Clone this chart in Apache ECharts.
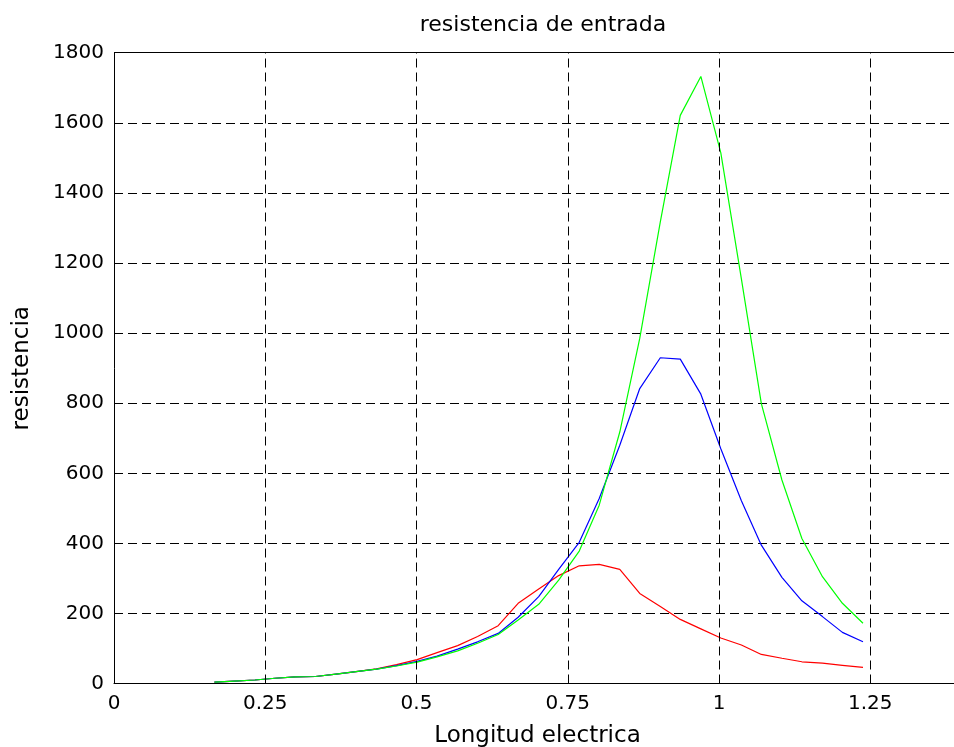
<!DOCTYPE html>
<html>
<head>
<meta charset="utf-8">
<script src="https://cdn.jsdelivr.net/npm/echarts@6/dist/echarts.min.js"></script>
<style>html,body{margin:0;padding:0;background:#fff}#c{width:954px;height:747px}</style>
</head>
<body>
<div id="c"></div>
<script>
var longitud = [0.166,0.199,0.233,0.266,0.300,0.333,0.367,0.400,0.434,0.467,0.501,0.534,0.568,0.601,0.635,0.668,0.702,0.735,0.769,0.802,0.836,0.869,0.903,0.936,0.970,1.003,1.037,1.070,1.104,1.137,1.171,1.204,1.238];
var rojo  = [4,7,10,15,19,20,27,34,42,54,68,88,108,134,165,229,270,308,336,340,326,257,220,183,156,130,110,83,72,62,58,52,46];
var azul  = [4,7,10,15,19,20,27,34,41,51,63,78,98,119,143,189,248,326,403,528,680,842,930,926,826,670,522,395,303,236,191,146,119];
var verde = [4,7,10,15,19,20,27,34,41,50,61,76,93,115,140,181,226,295,378,509,718,985,1318,1622,1733,1515,1155,799,581,414,305,229,172];
var yTicks = [0,200,400,600,800,1000,1200,1400,1600,1800];
var xTicks = [0,0.25,0.5,0.75,1,1.25];

function pairs(ys){ return longitud.map(function(x,i){ return [x, ys[i]]; }); }
var font = 'DejaVu Sans';
var dash = [9,5];
var chart = echarts.init(document.getElementById('c'), null, {renderer:'canvas'});
chart.setOption({
  backgroundColor:'#ffffff',
  animation:false,
  title:{text:'resistencia de entrada', left:538, top:9, textAlign:'center',
    textStyle:{fontFamily:font, fontSize:22, fontWeight:'normal', color:'#000'}},
  grid:{left:114, top:53, width:847, height:630.5, outerBoundsMode:'none', containLabel:false},
  xAxis:{type:'value', min:0, max:1.4, interval:0.25,
    name:'Longitud electrica', nameLocation:'middle', nameGap:41,
    nameTextStyle:{fontFamily:font, fontSize:23, color:'#000'},
    axisLine:{show:true, lineStyle:{color:'#000', width:1}},
    axisTick:{show:false},
    axisLabel:{fontFamily:font, fontSize:20, color:'#000', margin:10, showMaxLabel:false,
      formatter:function(v){ var s = xTicks.filter(function(t){return Math.abs(t-v)<1e-9;}); return s.length? String(s[0]) : ''; }},
    splitLine:{show:false}
  },
  yAxis:{type:'value', min:0, max:1800, interval:200,
    name:'resistencia', nameLocation:'middle', nameGap:80,
    nameTextStyle:{fontFamily:font, fontSize:23, color:'#000'},
    axisLine:{show:true, lineStyle:{color:'#000', width:1}},
    axisTick:{show:false},
    axisLabel:{fontFamily:font, fontSize:20, color:'#000', margin:10,
      formatter:function(v){ return yTicks.indexOf(v)>=0 ? String(v) : ''; }},
    splitLine:{show:true, showMaxLine:false, lineStyle:{color:'#000', width:1, type:dash}}
  },
  series:[
    {type:'line', data:[], silent:true,
      markLine:{silent:true, symbol:['none','none'], label:{show:false},
        lineStyle:{color:'#000', width:1, type:dash},
        data:xTicks.filter(function(t){return t>0;}).map(function(t){return {xAxis:t};})}},
    {type:'line', data:pairs(rojo), showSymbol:false, lineStyle:{color:'#ff0000', width:1.2}, itemStyle:{color:'#ff0000'}},
    {type:'line', data:pairs(azul), showSymbol:false, lineStyle:{color:'#0000ff', width:1.2}, itemStyle:{color:'#0000ff'}},
    {type:'line', data:pairs(verde), showSymbol:false, lineStyle:{color:'#00ff00', width:1.2}, itemStyle:{color:'#00ff00'}}
  ],
  graphic:[{type:'line', silent:true, shape:{x1:114, y1:52.5, x2:961, y2:52.5}, style:{stroke:'#000', lineWidth:1.2}}]
});
</script>
</body>
</html>
